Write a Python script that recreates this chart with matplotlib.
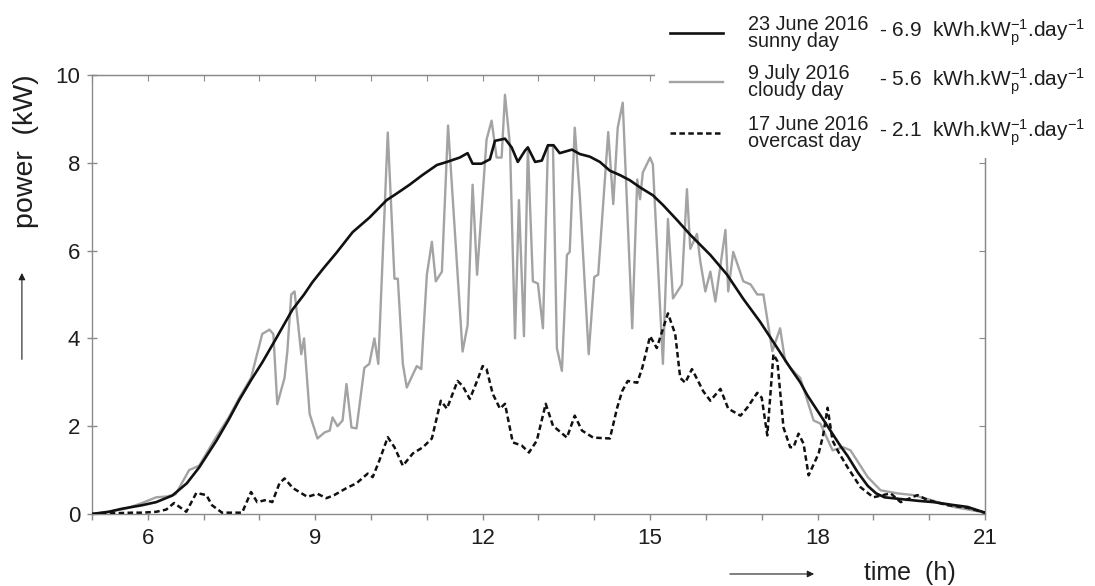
"""
PV power output on three days of 2016: sunny, cloudy and overcast.
"""

import matplotlib
matplotlib.use("Agg")
import matplotlib.pyplot as plt
from matplotlib.lines import Line2D
from matplotlib.patches import Rectangle, FancyArrowPatch
from matplotlib.ticker import MultipleLocator

plt.rcParams["font.family"] = ["Liberation Sans", "DejaVu Sans"]
plt.rcParams["mathtext.fontset"] = "custom"
plt.rcParams["mathtext.rm"] = "Liberation Sans"
plt.rcParams["mathtext.it"] = "Liberation Sans:italic"
plt.rcParams["mathtext.bf"] = "Liberation Sans:bold"
plt.rcParams["lines.scale_dashes"] = False

# --- data (time of day in hours, power in kW) ---
sunny_t = [5.0, 5.3, 5.54, 5.9, 6.15, 6.44, 6.7, 6.92, 7.23, 7.45, 7.64, 7.85, 8.05,
           8.3, 8.59, 8.8, 8.95, 9.15, 9.38, 9.67, 9.97, 10.28, 10.46, 10.69, 10.92,
           11.18, 11.36, 11.59, 11.73, 11.82, 11.98, 12.13, 12.22, 12.4, 12.52, 12.63,
           12.76, 12.81, 12.94, 13.06, 13.17, 13.27, 13.38, 13.6, 13.74, 13.92, 14.1,
           14.28, 14.46, 14.64, 14.82, 15.05, 15.23, 15.48, 15.72, 16.08, 16.38, 16.67,
           16.97, 17.28, 17.51, 17.69, 17.82, 18.0, 18.18, 18.41, 18.54, 18.72, 18.9,
           19.05, 19.2, 19.49, 19.8, 20.08, 20.4, 20.69, 21.0]
sunny_p = [0.0, 0.05, 0.12, 0.2, 0.27, 0.42, 0.7, 1.06, 1.67, 2.15, 2.6, 3.05, 3.45,
           4.0, 4.65, 5.0, 5.28, 5.6, 5.95, 6.42, 6.75, 7.15, 7.3, 7.5, 7.72,
           7.95, 8.02, 8.12, 8.22, 7.98, 7.98, 8.08, 8.5, 8.55, 8.35, 8.02,
           8.28, 8.35, 8.02, 8.05, 8.4, 8.4, 8.22, 8.3, 8.2, 8.14, 8.02,
           7.82, 7.72, 7.6, 7.44, 7.26, 7.04, 6.7, 6.36, 5.9, 5.45, 4.9,
           4.38, 3.78, 3.33, 3.0, 2.7, 2.35, 2.0, 1.55, 1.32, 0.95, 0.64,
           0.47, 0.38, 0.34, 0.3, 0.27, 0.21, 0.16, 0.03]

cloudy_t = [5.0, 5.3, 5.6, 5.9, 6.15, 6.35, 6.5, 6.74, 6.92, 7.2, 7.45, 7.64, 7.85,
            8.05, 8.18, 8.25, 8.32, 8.45, 8.5, 8.57, 8.63, 8.75, 8.8, 8.9, 9.04,
            9.17, 9.26, 9.31, 9.4, 9.49, 9.56, 9.65, 9.74, 9.88, 9.97, 10.06, 10.13,
            10.3, 10.42, 10.48, 10.57, 10.64, 10.82, 10.9, 11.0, 11.09, 11.16, 11.27,
            11.38, 11.64, 11.73, 11.82, 11.9, 12.07, 12.16, 12.25, 12.34, 12.4, 12.49,
            12.58, 12.65, 12.74, 12.81, 12.9, 12.99, 13.08, 13.17, 13.26, 13.33, 13.42,
            13.51, 13.56, 13.65, 13.74, 13.9, 14.0, 14.07, 14.25, 14.34, 14.42, 14.51,
            14.68, 14.77, 14.82, 14.87, 15.0, 15.05, 15.23, 15.32, 15.41, 15.57, 15.66,
            15.72, 15.84, 15.9, 15.99, 16.08, 16.17, 16.35, 16.4, 16.49, 16.67, 16.8,
            16.92, 17.03, 17.19, 17.33, 17.42, 17.6, 17.69, 17.93, 18.05, 18.27, 18.46,
            18.59, 18.9, 19.13, 19.43, 19.72, 20.03, 20.44, 20.92, 21.0]
cloudy_p = [0.0, 0.05, 0.12, 0.25, 0.38, 0.4, 0.45, 1.0, 1.1, 1.7, 2.2, 2.65, 3.1,
            4.1, 4.2, 4.1, 2.5, 3.1, 3.7, 5.0, 5.07, 3.64, 4.0, 2.28, 1.72,
            1.86, 1.9, 2.2, 2.0, 2.13, 2.96, 1.97, 1.95, 3.33, 3.42, 4.0, 3.42,
            8.69, 5.36, 5.36, 3.42, 2.88, 3.37, 3.3, 5.45, 6.2, 5.3, 5.52,
            8.85, 3.7, 4.3, 7.5, 5.45, 8.53, 8.96, 8.12, 8.12, 9.55, 8.39,
            4.0, 7.15, 4.05, 8.35, 5.3, 5.25, 4.23, 8.39, 8.39, 3.78, 3.26,
            5.9, 5.97, 8.8, 7.26, 3.64, 5.4, 5.45, 8.7, 7.06, 8.8, 9.37,
            4.23, 7.62, 7.17, 7.78, 8.12, 7.96, 3.42, 6.72, 4.91, 5.23, 7.4,
            6.04, 6.38, 5.75, 5.07, 5.52, 4.84, 6.47, 5.07, 5.97, 5.3, 5.23,
            5.0, 5.0, 3.71, 4.23, 3.48, 3.21, 3.1, 2.13, 2.06, 1.45, 1.52,
            1.45, 0.84, 0.54, 0.47, 0.43, 0.32, 0.16, 0.05, 0.03]

overcast_t = [5.0, 5.72, 5.9, 6.15, 6.33, 6.47, 6.69, 6.87, 7.05, 7.15, 7.33, 7.69,
              7.85, 7.96, 8.12, 8.23, 8.36, 8.45, 8.6, 8.86, 9.04, 9.2, 9.34, 9.56,
              9.74, 9.94, 10.03, 10.15, 10.3, 10.42, 10.57, 10.75, 10.93, 11.09, 11.25,
              11.36, 11.55, 11.64, 11.77, 11.9, 12.0, 12.07, 12.18, 12.31, 12.4, 12.54,
              12.7, 12.83, 12.97, 13.13, 13.26, 13.51, 13.65, 13.78, 13.98, 14.28, 14.41,
              14.5, 14.6, 14.77, 14.86, 15.0, 15.12, 15.32, 15.45, 15.54, 15.63, 15.75,
              15.86, 15.95, 16.08, 16.26, 16.4, 16.62, 16.74, 16.92, 17.0, 17.1, 17.21,
              17.28, 17.39, 17.51, 17.57, 17.66, 17.75, 17.84, 18.02, 18.1, 18.18, 18.27,
              18.38, 18.54, 18.77, 19.0, 19.31, 19.49, 19.79, 19.97, 20.33, 20.69, 21.0]
overcast_p = [0.0, 0.03, 0.03, 0.05, 0.1, 0.25, 0.05, 0.48, 0.43, 0.2, 0.03, 0.03,
              0.5, 0.27, 0.32, 0.27, 0.7, 0.81, 0.59, 0.39, 0.46, 0.36, 0.43, 0.59,
              0.7, 0.92, 0.84, 1.22, 1.75, 1.52, 1.1, 1.38, 1.52, 1.72, 2.58,
              2.4, 3.03, 2.92, 2.62, 3.03, 3.37, 3.3, 2.74, 2.4, 2.51, 1.63,
              1.56, 1.4, 1.67, 2.51, 2.01, 1.74, 2.24, 1.9, 1.74, 1.72, 2.42,
              2.8, 3.03, 2.99, 3.33, 4.05, 3.78, 4.57, 4.1, 3.1, 2.99, 3.3,
              3.03, 2.8, 2.58, 2.85, 2.4, 2.24, 2.42, 2.76, 2.65, 1.79, 3.64,
              3.48, 1.97, 1.52, 1.52, 1.83, 1.6, 0.88, 1.38, 1.79, 2.42, 1.67,
              1.4, 1.06, 0.61, 0.38, 0.47, 0.27, 0.43, 0.32, 0.2, 0.14, 0.03]

legend_dates = ["23 June 2016\nsunny day", "9 July 2016\ncloudy day",
                "17 June 2016\novercast day"]
legend_yields = ["6.9", "5.6", "2.1"]

x_ticks = [6, 9, 12, 15, 18, 21]
y_ticks = [0, 2, 4, 6, 8, 10]

# --- styles ---
axis_grey = "#8a8a8a"
text_col = "#1e1e1e"
styles = [
    dict(color="#111111", lw=1.9, ls="-"),
    dict(color="#a3a3a3", lw=1.7, ls="-"),
    dict(color="#111111", lw=1.8, ls=(0, (4, 2.4))),
]

fig = plt.figure(figsize=(10.95, 5.86), dpi=100)
ax = fig.add_axes([0.084, 0.1229, 0.8155, 0.7491])

ax.plot(cloudy_t, cloudy_p, **styles[1], zorder=2)
ax.plot(overcast_t, overcast_p, **styles[2], zorder=3)
ax.plot(sunny_t, sunny_p, **styles[0], zorder=4)

ax.set_xlim(5, 21)
ax.set_ylim(0, 10)
ax.set_xticks(x_ticks)
ax.xaxis.set_minor_locator(MultipleLocator(1))
ax.set_yticks(y_ticks)

for sp in ax.spines.values():
    sp.set_color(axis_grey)
    sp.set_linewidth(1.0)

ax.tick_params(which="both", direction="out", color=axis_grey, width=1.0,
               length=4, labelcolor=text_col, labelsize=16)
ax.tick_params(axis="x", which="both", pad=6)
ax.tick_params(axis="y", direction="inout", length=7, pad=5)

# mirrored ticks on top and right point inward
top = ax.secondary_xaxis("top")
top.set_xticks(range(5, 22))
top.tick_params(direction="in", length=4, color=axis_grey, labeltop=False)
top.spines["top"].set_color(axis_grey)
right = ax.secondary_yaxis("right")
right.set_yticks(y_ticks)
right.tick_params(direction="in", length=4, color=axis_grey, labelright=False)
right.spines["right"].set_color(axis_grey)

# axis labels with arrows
fig.text(0.024, 0.742, "power  (kW)", rotation=90, ha="center", va="center",
         fontsize=20.5, color=text_col)
fig.add_artist(FancyArrowPatch(
    (0.020, 0.382), (0.020, 0.539), transform=fig.transFigure,
    arrowstyle="-|>,head_length=4,head_width=2", color=text_col, lw=0.8))
fig.text(0.831, 0.022, "time  (h)", ha="center", va="center",
         fontsize=18, color=text_col)
fig.add_artist(FancyArrowPatch(
    (0.664, 0.0205), (0.746, 0.0205), transform=fig.transFigure,
    arrowstyle="-|>,head_length=4,head_width=2", color=text_col, lw=0.8))

# legend block drawn over the top-right corner of the axes
fig.add_artist(Rectangle((0.598, 0.730), 0.402, 0.27, transform=fig.transFigure,
                         facecolor="white", edgecolor="none", zorder=10))
row_y = [0.9437, 0.860, 0.773]
for y, st, lab, val in zip(row_y, styles, legend_dates, legend_yields):
    fig.add_artist(Line2D([0.612, 0.660], [y, y], transform=fig.transFigure,
                          zorder=11, **st))
    fig.text(0.683, y, lab, ha="left", va="center", fontsize=14.3,
             linespacing=0.85, color=text_col, zorder=11)
    fig.text(0.8025, y, "- " + val + r"  kWh.kW$_\mathrm{p}^{-1}$.day$^{-1}$",
             ha="left", va="center", fontsize=15, color=text_col, zorder=11)

fig.savefig("out.png", dpi=100)
